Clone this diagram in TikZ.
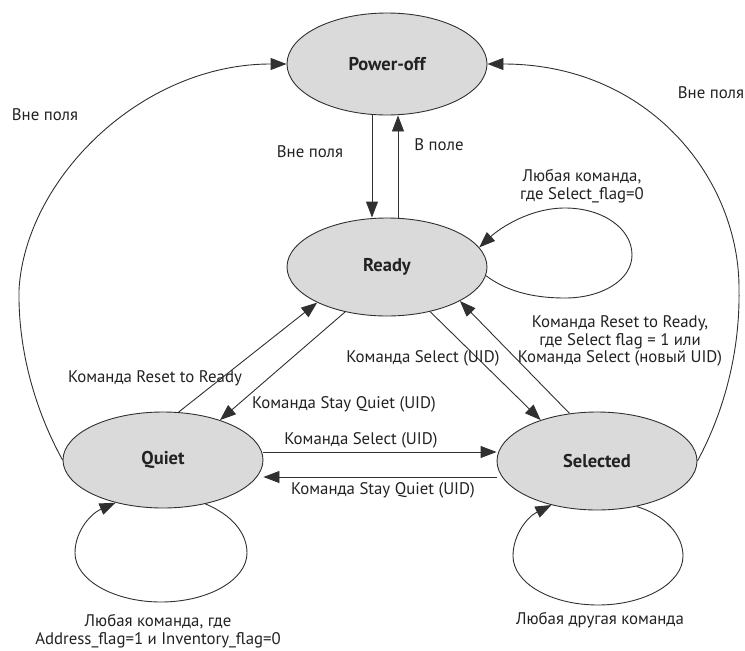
\documentclass[tikz,border=0pt]{standalone}
\usepackage{fontspec}
\setmainfont{PT Sans}
\usetikzlibrary{shapes.geometric,arrows.meta}
\definecolor{statefill}{HTML}{DADADA}
\definecolor{linec}{HTML}{303030}
\definecolor{textc}{HTML}{222222}
\begin{document}
\begin{tikzpicture}[x=1pt,y=-1pt,
  state/.style={ellipse, draw=linec, fill=statefill, line width=0.9pt, minimum width=200pt, minimum height=98pt, inner sep=0pt, font=\fontsize{18.5}{21}\selectfont\bfseries, text=textc},
  arr/.style={draw=linec, line width=0.9pt, -{Triangle[length=16pt,width=12pt]}},
  lbl/.style={font=\fontsize{16.8}{17.5}\selectfont, text=textc, inner sep=0pt, align=center}
]
\useasboundingbox (0,0) rectangle (745,651);
\node[state, minimum height=102pt] (P) at (387,64) {Power-off};
\node[state] (R) at (387,267) {Ready};
\node[state, minimum height=96pt] (Q) at (163,460) {Quiet};
\node[state] (S) at (597,461) {Selected};

% Power-off <-> Ready
\draw[arr] (P.south -| 372,0) -- (R.north -| 372,0);
\draw[arr] (R.north -| 398,0) -- (P.south -| 398,0);

% out of field curves
\draw[arr] (Q.west) .. controls (35,410) and (18,350) .. (19,290)
  .. controls (25,180) and (140,64) .. (P.west);
\draw[arr] (S.east) .. controls (725,410) and (740,350) .. (739,290)
  .. controls (740,180) and (650,64) .. (P.east);

% Ready self loop
\draw[arr] (R.-5) .. controls (505,290) and (530,298) .. (565,298)
  .. controls (602,298) and (632,280) .. (632,255)
  .. controls (632,228) and (602,208) .. (565,208)
  .. controls (530,208) and (500,228) .. (R.12);

% diagonals
\draw[arr] (Q.72.5) -- (R.207.5);
\draw[arr] (R.227) -- (Q.35.4);
\draw[arr] (R.314) -- (S.144.4);
\draw[arr] (S.120.8) -- (R.335.8);

% horizontals
\draw[arr] (Q.east |- 0,452) -- (S.west |- 0,452);
\draw[arr] (S.west |- 0,477) -- (Q.east |- 0,477);

% Quiet self loop
\draw[arr] (Q.314) .. controls (232,515) and (247,533) .. (247,553)
  .. controls (247,580) and (208,602) .. (161,602)
  .. controls (114,602) and (75,580) .. (75,553)
  .. controls (75,530) and (92,513) .. (Q.222);

% Selected self loop
\draw[arr] (S.311) .. controls (665,515) and (683,535) .. (683,556)
  .. controls (683,583) and (645,605) .. (598,605)
  .. controls (551,605) and (513,583) .. (513,556)
  .. controls (513,535) and (527,517) .. (S.224);

% labels
\node[lbl] (t1) at (45,115) {Вне поля};
\node[lbl] (t2) at (711,93) {Вне поля};
\node[lbl] (t3) at (310,152) {Вне поля};
\node[lbl] (t4) at (439,145) {В поле};
\node[lbl] (t5) at (582,186) {Любая команда,\\где Select\_flag=0};
\node[lbl] (t6) at (155,378) {Команда Reset to Ready};
\node[lbl] (t7) at (344,404) {Команда Stay Quiet (UID)};
\node[lbl] (t8) at (423,358) {Команда Select (UID)};
\node[lbl] (t9) at (620,341) {Команда Reset to Ready,\\где Select flag = 1 или\\Команда Select (новый UID)};
\node[lbl] (t10) at (361,440) {Команда Select (UID)};
\node[lbl] (t11) at (383,490) {Команда Stay Quiet (UID)};
\node[lbl] (t12) at (158,631) {Любая команда, где\\Address\_flag=1 и Inventory\_flag=0};
\node[lbl] (t13) at (600,620) {Любая другая команда};
\end{tikzpicture}
\end{document}
